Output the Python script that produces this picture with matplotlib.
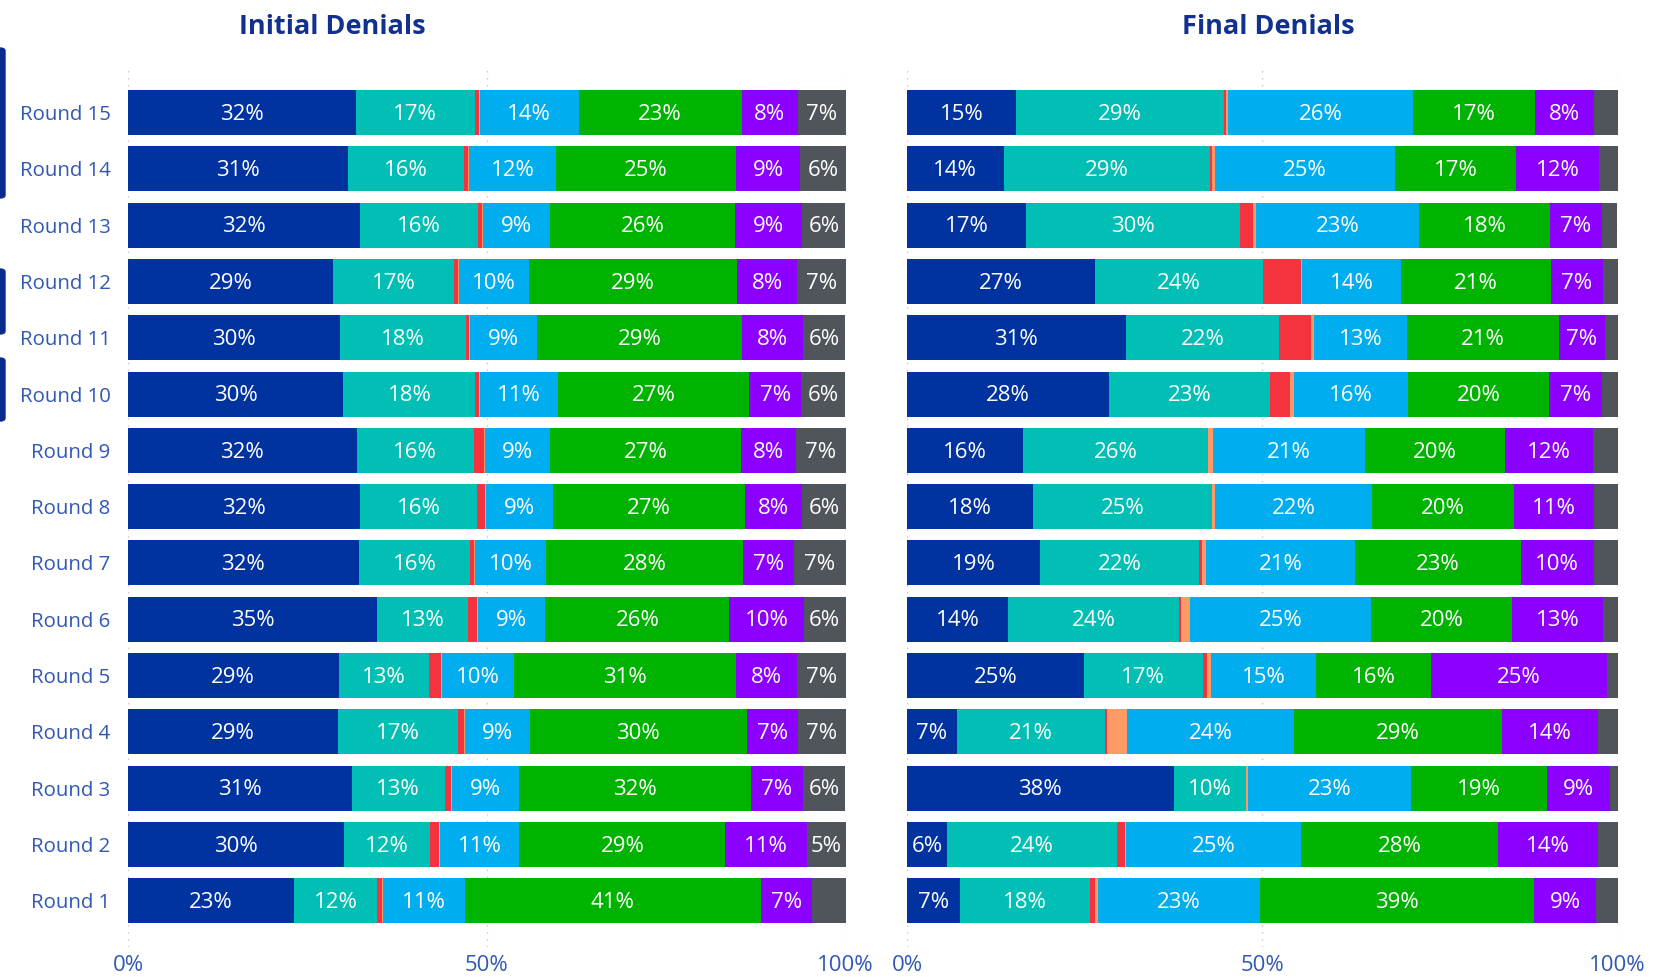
import matplotlib
matplotlib.use("Agg")
import matplotlib.pyplot as plt
import numpy as np
from matplotlib.patches import FancyBboxPatch

plt.rcParams["font.family"] = ["Open Sans", "DejaVu Sans"]

rounds = [f"Round {i}" for i in range(1, 16)]
categories = ["blue", "teal", "red", "orange", "light blue", "green", "purple", "gray"]
colors = ["#0033A0", "#01BFB4", "#F5333F", "#FF9966", "#00AEEF", "#00B300", "#8C00FF", "#50555C"]
no_label = {"red", "orange"}

# shares in %, Round 1 .. Round 15
init_blue = [23.1, 30.1, 31.0, 29.3, 29.3, 34.7, 32.2, 32.2, 31.8, 30.0, 29.6, 28.6, 32.2, 30.7, 31.8]
init_teal = [11.6, 11.9, 12.9, 16.8, 12.6, 12.6, 15.6, 16.2, 16.3, 18.4, 17.6, 16.9, 16.4, 16.2, 16.7]
init_red = [0.7, 1.3, 0.9, 0.8, 1.6, 1.3, 0.5, 1.1, 1.4, 0.5, 0.5, 0.5, 0.5, 0.5, 0.5]
init_orange = [0.15] * 15
init_lblue = [11.3, 11.0, 9.3, 9.0, 10.1, 9.4, 9.9, 9.3, 9.0, 10.9, 9.3, 9.7, 9.4, 12.1, 13.8]
init_green = [41.2, 28.7, 32.1, 30.3, 30.9, 25.6, 27.5, 26.6, 26.6, 26.6, 28.7, 29.1, 25.7, 25.1, 22.8]
init_purple = [7.1, 11.3, 7.2, 7.2, 8.4, 10.4, 7.1, 7.9, 7.6, 7.2, 8.4, 8.3, 9.3, 9.0, 7.8]
init_gray = [4.7, 5.4, 5.9, 6.6, 6.8, 5.8, 7.2, 6.0, 6.9, 6.2, 6.0, 6.8, 6.0, 6.3, 6.7]

final_blue = [7.4, 5.7, 37.6, 7.0, 24.9, 14.2, 18.7, 17.7, 16.3, 28.4, 30.8, 26.6, 16.7, 13.6, 15.4]
final_teal = [18.4, 23.9, 10.2, 20.9, 16.7, 24.1, 22.3, 25.2, 26.1, 22.8, 21.6, 23.6, 30.1, 29.0, 29.3]
final_red = [0.6, 1.1, 0.0, 0.3, 0.6, 0.3, 0.5, 0.0, 0.0, 2.8, 4.5, 5.4, 1.9, 0.3, 0.3]
final_orange = [0.4, 0.2, 0.3, 2.7, 0.6, 1.3, 0.5, 0.4, 0.7, 0.5, 0.4, 0.2, 0.4, 0.4, 0.2]
final_lblue = [22.8, 24.7, 23.0, 23.6, 14.8, 25.4, 20.9, 22.0, 21.3, 16.1, 13.1, 13.9, 22.9, 25.4, 26.1]
final_green = [38.6, 27.8, 19.1, 29.2, 16.1, 19.9, 23.3, 19.9, 19.7, 19.9, 21.3, 21.2, 18.4, 17.0, 17.2]
final_purple = [8.7, 14.0, 8.9, 13.6, 24.8, 12.7, 10.3, 11.3, 12.4, 7.4, 6.6, 7.3, 7.3, 11.7, 8.3]
final_gray = [3.0, 2.8, 1.1, 2.7, 1.5, 2.1, 3.3, 3.3, 3.5, 2.2, 1.7, 2.1, 2.2, 2.6, 3.3]

initial = [init_blue, init_teal, init_red, init_orange, init_lblue, init_green, init_purple, init_gray]
final = [final_blue, final_teal, final_red, final_orange, final_lblue, final_green, final_purple, final_gray]

TITLE_C = "#12318F"
TEXT_C = "#3158B5"
W, H = 1653, 980

fig = plt.figure(figsize=(W / 100, H / 100), dpi=100)


def px(x0, y0, x1, y1):
    return [x0 / W, 1 - y1 / H, (x1 - x0) / W, (y1 - y0) / H]


def draw(ax, data, show_rounds):
    vals = np.array(data, dtype=float)
    shares = vals / vals.sum(axis=0) * 100
    y = np.arange(len(rounds))
    left = np.zeros(len(rounds))
    for k, cat in enumerate(categories):
        ax.barh(y, shares[k], left=left, height=0.8, color=colors[k], linewidth=0)
        if cat not in no_label:
            for i in range(len(rounds)):
                if vals[k, i] >= 5:
                    ax.text(left[i] + shares[k, i] / 2, y[i] - 0.03, f"{vals[k, i]:.0f}%",
                            ha="center", va="center", color="white", fontsize=16)
        left += shares[k]
    ax.set_xlim(0, 100)
    ax.set_ylim(-0.82, 14.79)
    ax.set_xticks([0, 50, 100])
    ax.set_xticklabels(["0%", "50%", "100%"])
    ax.grid(True, axis="x", linestyle=(0, (1, 4)), color="#C4C4C4", linewidth=1)
    ax.set_axisbelow(True)
    for s in ax.spines.values():
        s.set_visible(False)
    ax.tick_params(axis="x", length=0, labelsize=16, labelcolor=TEXT_C, pad=6)
    ax.set_yticks(y)
    if show_rounds:
        ax.set_yticklabels(rounds)
        ax.tick_params(axis="y", length=0, labelsize=14.7, labelcolor=TEXT_C, pad=12.5)
    else:
        ax.set_yticklabels([])
        ax.tick_params(axis="y", length=0)


ax1 = fig.add_axes(px(128, 68, 845.5, 947))
ax2 = fig.add_axes(px(907, 68, 1617.5, 947))
draw(ax1, initial, True)
draw(ax2, final, False)

fig.text(332 / W, 1 - 27 / H, "Initial Denials", ha="center", va="center",
         fontsize=19.5, fontweight="bold", color=TITLE_C)
fig.text(1268 / W, 1 - 27 / H, "Final Denials", ha="center", va="center",
         fontsize=19.5, fontweight="bold", color=TITLE_C)

# selection markers on the left edge
for y0, y1 in [(48, 198), (269, 334), (358, 421)]:
    fig.add_artist(FancyBboxPatch((-6 / W, 1 - y1 / H), 11 / W, (y1 - y0) / H,
                                  boxstyle="round,pad=0,rounding_size=0.003",
                                  transform=fig.transFigure, color="#0A2A8C", clip_on=False))

fig.savefig("out.png", dpi=100)
